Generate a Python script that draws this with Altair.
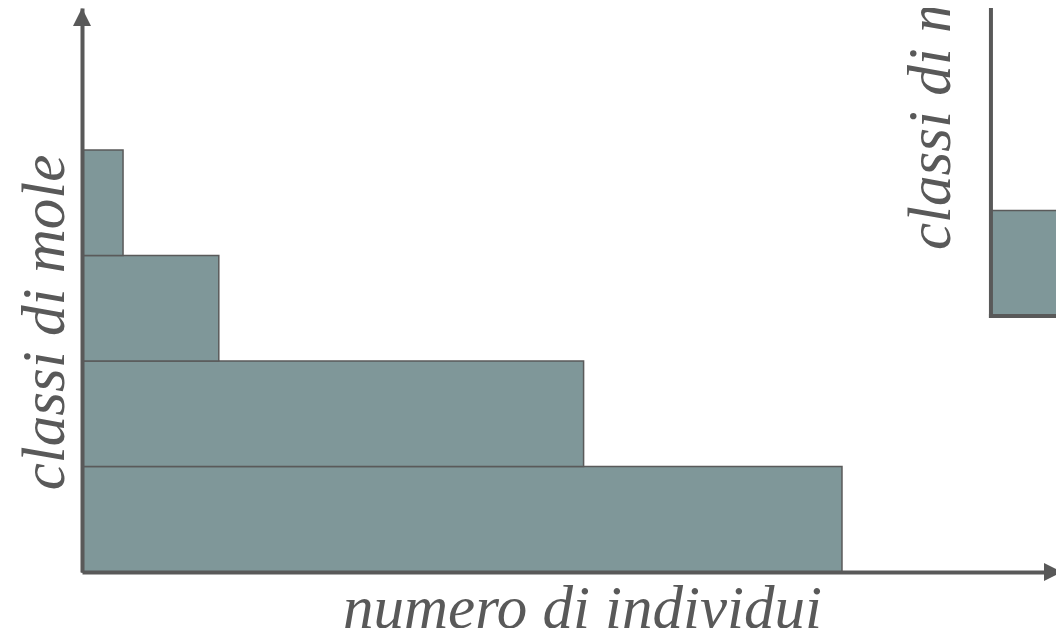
import altair as alt
import pandas as pd

# ---- data ----
classi = [1, 2, 3, 4]                 # classi di mole (bottom to top)
individui = [100, 66, 18, 5.4]        # numero di individui per classe
classi_2 = [1]                        # second (cut-off) chart
individui_2 = [40]

BAR = "#7f9799"
EDGE = "#5a5a5a"
INK = "#595959"
FONT = "Liberation Serif"
FS = 61

X_MAX = 128.16
Y_MAX = 5.346
X_TIP = 128.95

df = pd.DataFrame({"classe": classi, "n": individui})
df["x0"] = 0.0
df["y0"] = df["classe"] - 1
df["y1"] = df["classe"]

df2 = pd.DataFrame({"classe": classi_2, "n": individui_2})
df2["x0"] = 0.0
df2["y0"] = df2["classe"] - 1
df2["y1"] = df2["classe"]

one = pd.DataFrame({"a": [0]})

xs = alt.Scale(domain=[0, X_MAX], nice=False, zero=False)
ys = alt.Scale(domain=[0, Y_MAX], nice=False, zero=False)

title_style = dict(titleFont=FONT, titleFontStyle="italic", titleFontWeight="normal",
                   titleFontSize=FS, titleColor=INK, titleBaseline="alphabetic",
                   titleAlign="center")

x_axis = alt.Axis(domain=True, domainColor=INK, domainWidth=4, ticks=False, labels=False,
                  grid=False, zindex=1, title="numero di individui",
                  titleAngle=0, titleX=500, titleY=55, **title_style)
y_axis = alt.Axis(domain=True, domainColor=INK, domainWidth=4, ticks=False, labels=False,
                  grid=False, zindex=1, title="classi di mole",
                  titleAngle=270, titleX=-19, titleY=314, **title_style)

bars = alt.Chart(df).mark_rect(fill=BAR, stroke=EDGE, strokeWidth=1.5).encode(
    x=alt.X("x0:Q", scale=xs, axis=x_axis),
    x2="n:Q",
    y=alt.Y("y0:Q", scale=ys, axis=y_axis),
    y2="y1:Q",
)

arrow_up = alt.Chart(one).mark_point(
    shape="M0,0L1,2L-1,2Z", filled=True, size=324, color=INK, opacity=1
).encode(x=alt.datum(0), y=alt.datum(Y_MAX))

arrow_right = alt.Chart(one).mark_point(
    shape="M0,0L-2,-1L-2,1Z", filled=True, size=324, color=INK, opacity=1
).encode(x=alt.datum(X_TIP), y=alt.datum(0))

main = alt.layer(bars, arrow_up, arrow_right)

# ---- second chart, partly outside the picture ----
xs2 = alt.Scale(domain=[-119.6, 8.56], nice=False, zero=False)
ys2 = alt.Scale(domain=[-2.427, 2.919], nice=False, zero=False)

bar2 = alt.Chart(df2).mark_rect(fill=BAR, stroke=EDGE, strokeWidth=1.5).encode(
    x=alt.X("x0:Q", scale=xs2, axis=None),
    x2="n:Q",
    y=alt.Y("y0:Q", scale=ys2, axis=None),
    y2="y1:Q",
)
vrule = alt.Chart(one).mark_rule(color=INK, strokeWidth=4, strokeCap="square").encode(
    x=alt.datum(0), y=alt.datum(0), y2=alt.datum(3)
)
hrule = alt.Chart(one).mark_rule(color=INK, strokeWidth=4, strokeCap="square").encode(
    x=alt.datum(0), x2=alt.datum(12), y=alt.datum(0)
)
title2 = alt.Chart(one).mark_text(
    text="classi di mole", angle=270, align="left", baseline="alphabetic",
    font=FONT, fontSize=FS, fontStyle="italic", color=INK
).encode(x=alt.value(868), y=alt.value(242))

second = alt.layer(bar2, vrule, hrule, title2)

chart = alt.layer(main, second).resolve_scale(x="independent", y="independent").properties(
    width=974, height=564,
    autosize=alt.AutoSizeParams(type="none"),
    padding={"left": 74, "top": 0, "right": 0, "bottom": 56},
    background="white",
).configure_view(stroke=None)

chart.save("out.html", embed_options={"renderer": "svg", "actions": False})
